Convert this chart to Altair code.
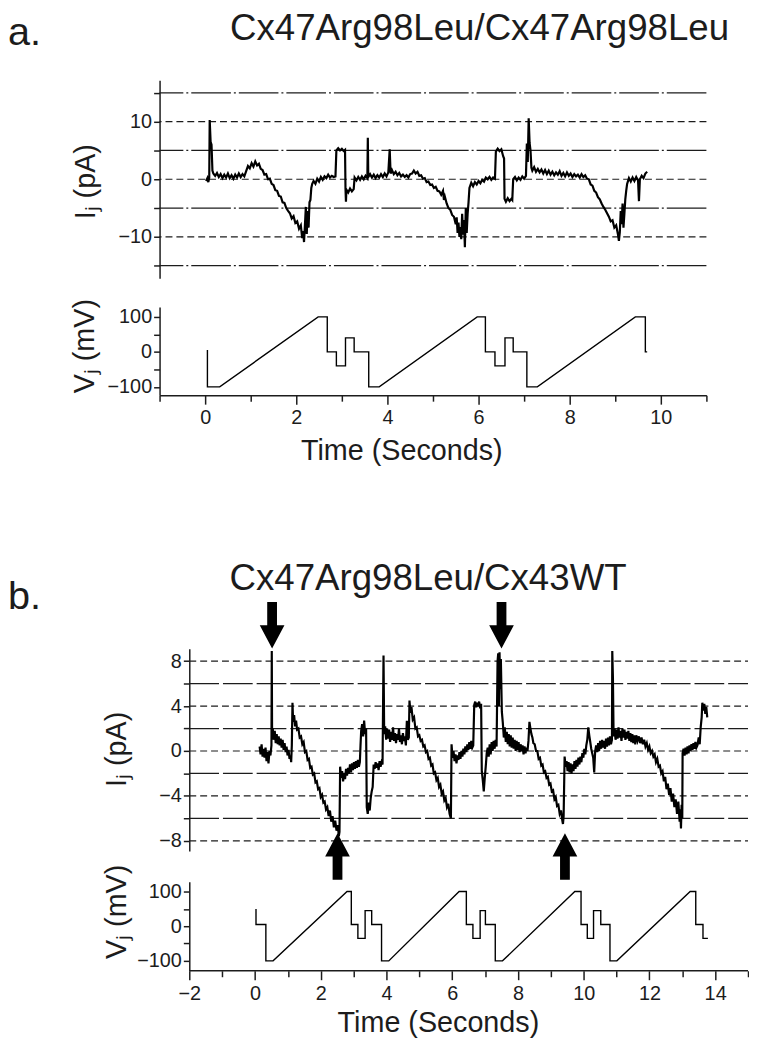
import altair as alt
import pandas as pd

FONT = "Liberation Sans"
INK = "#1c1c1c"

# ---------------- panel a ----------------
a_letter = "a."
a_title = "Cx47Arg98Leu/Cx47Arg98Leu"
a_time_ticks = list(range(-1, 12))
a_ij_ticks = [-15, -10, -5, 0, 5, 10, 15]
a_vj_ticks = [-100, -50, 0, 50, 100]
a_grid_dash = [10, 0, -10]
a_grid_long = [15, 5, -5, -15]

a_ij_points = [
    (0.02, -0.3), (0.05, 0.2), (0.07, -0.5), (0.09, 0.3), (0.10, 10.3), (0.12, 6.5), (0.14, 6.0),
    (0.16, 1.5), (0.18, 1.0), (0.22, 0.6), (0.26, 1.1), (0.30, 0.4), (0.34, 0.9), (0.38, 0.2),
    (0.42, 0.8), (0.46, 0.3), (0.50, 1.0), (0.54, 0.2), (0.58, 0.7), (0.62, 0.1), (0.66, 0.8),
    (0.70, 0.3), (0.74, 1.0), (0.78, 0.4), (0.82, 0.9), (0.86, 0.5), (0.90, 1.4), (0.94, 2.3),
    (0.98, 1.9), (1.02, 2.8), (1.06, 2.2), (1.10, 3.1), (1.14, 2.4), (1.18, 2.7), (1.22, 1.8),
    (1.26, 1.6), (1.30, 0.8), (1.34, 0.9), (1.38, 0.0), (1.42, 0.1), (1.46, -0.8), (1.50, -1.0),
    (1.54, -1.9), (1.58, -2.0), (1.62, -2.9), (1.66, -3.0), (1.70, -4.0), (1.74, -4.1), (1.78, -5.0),
    (1.82, -5.5), (1.86, -5.9), (1.90, -6.8), (1.94, -6.4), (1.98, -7.6), (2.02, -7.3), (2.06, -8.6),
    (2.10, -8.0), (2.13, -10.2), (2.15, -9.0), (2.17, -10.9), (2.19, -8.0), (2.21, -4.8), (2.23, -9.5),
    (2.25, -5.5), (2.27, -8.4), (2.29, -4.0), (2.31, -3.6), (2.33, -1.5), (2.35, -0.8), (2.38, -0.3),
    (2.42, -0.8), (2.46, 0.1), (2.50, -0.4), (2.54, 0.4), (2.58, -0.1), (2.62, 0.5), (2.66, 0.2),
    (2.70, 0.8), (2.74, 0.3), (2.78, 0.6), (2.82, 0.4), (2.86, 0.5), (2.88, 5.0), (2.92, 5.4),
    (2.96, 5.0), (3.00, 5.3), (3.04, 4.9), (3.07, 5.1), (3.08, -1.6), (3.09, -3.9), (3.10, -1.8),
    (3.14, -2.3), (3.18, -1.6), (3.22, -2.1), (3.26, -1.7), (3.28, 0.3), (3.32, -0.2), (3.36, 0.4),
    (3.40, -0.1), (3.44, 0.5), (3.48, 0.0), (3.52, 0.6), (3.56, 0.2), (3.57, 7.2), (3.58, 0.4),
    (3.62, 0.9), (3.66, 0.3), (3.70, 0.8), (3.74, 0.2), (3.78, 0.7), (3.82, 0.3), (3.86, 0.9),
    (3.90, 0.4), (3.94, 1.0), (3.98, 0.5), (4.02, 1.2), (4.05, 5.2), (4.07, 1.0), (4.10, 1.6),
    (4.14, 0.9), (4.18, 1.3), (4.22, 0.7), (4.26, 1.1), (4.30, 0.5), (4.34, 0.8), (4.38, 0.4),
    (4.42, 0.7), (4.46, 0.3), (4.50, 0.9), (4.54, 1.0), (4.58, 1.5), (4.62, 1.0), (4.66, 1.3),
    (4.70, 0.6), (4.74, 0.7), (4.78, 0.1), (4.82, 0.2), (4.86, -0.5), (4.90, -0.4), (4.94, -1.0),
    (4.98, -0.9), (5.02, -1.5), (5.06, -1.3), (5.10, -2.0), (5.14, -2.1), (5.18, -2.7), (5.22, -2.0),
    (5.24, -3.6), (5.26, -3.0), (5.30, -4.2), (5.34, -5.0), (5.38, -5.3), (5.42, -6.2), (5.46, -6.5),
    (5.50, -7.8), (5.52, -6.6), (5.54, -9.3), (5.56, -7.5), (5.58, -10.0), (5.60, -8.3), (5.62, -10.4),
    (5.64, -6.0), (5.66, -9.6), (5.68, -7.1), (5.70, -11.8), (5.72, -5.0), (5.74, -9.3), (5.76, -6.0),
    (5.78, -4.0), (5.80, -1.5), (5.84, -0.6), (5.88, -1.2), (5.92, -0.5), (5.96, -0.9), (6.00, -0.3),
    (6.04, -0.7), (6.08, -0.1), (6.12, -0.4), (6.16, 0.3), (6.20, 0.0), (6.24, 0.4), (6.28, -0.1),
    (6.32, 0.3), (6.36, 0.1), (6.38, 4.8), (6.42, 5.3), (6.46, 4.9), (6.50, 5.2), (6.54, 4.0),
    (6.56, 3.6), (6.57, -3.4), (6.60, -3.9), (6.64, -3.3), (6.68, -3.8), (6.72, -3.4), (6.74, -3.6),
    (6.76, 0.0), (6.80, 0.4), (6.84, -0.2), (6.88, 0.3), (6.92, -0.1), (6.96, 0.5), (7.00, 0.1),
    (7.04, 0.6), (7.06, 6.2), (7.08, 3.0), (7.10, 10.6), (7.12, 6.3), (7.14, 5.0), (7.16, 2.0),
    (7.18, 1.5), (7.22, 2.1), (7.26, 1.3), (7.30, 1.8), (7.34, 1.2), (7.38, 1.7), (7.42, 1.0),
    (7.46, 1.6), (7.50, 0.9), (7.54, 1.5), (7.58, 0.8), (7.62, 1.3), (7.66, 0.7), (7.70, 1.2),
    (7.74, 0.8), (7.78, 1.4), (7.82, 0.6), (7.86, 1.1), (7.90, 0.5), (7.94, 1.2), (7.98, 0.6),
    (8.02, 1.0), (8.06, 0.4), (8.10, 0.9), (8.14, 0.5), (8.18, 0.8), (8.22, 0.3), (8.26, 0.9),
    (8.30, 0.4), (8.34, 0.7), (8.38, 0.1), (8.42, 0.0), (8.46, -0.9), (8.50, -1.1), (8.54, -2.0),
    (8.58, -2.3), (8.62, -3.1), (8.66, -3.5), (8.70, -4.2), (8.74, -4.8), (8.78, -5.3), (8.82, -5.9),
    (8.86, -6.5), (8.90, -7.3), (8.94, -7.1), (8.98, -8.4), (9.02, -8.0), (9.06, -9.6), (9.08, -10.7),
    (9.10, -9.2), (9.12, -5.5), (9.14, -7.8), (9.16, -4.2), (9.18, -8.4), (9.20, -6.0), (9.22, -3.5),
    (9.24, -2.0), (9.26, -0.8), (9.30, 0.2), (9.34, -0.4), (9.38, 0.3), (9.42, -0.3), (9.46, 0.4),
    (9.50, -0.2), (9.52, -3.8), (9.54, 0.0), (9.58, 0.6), (9.62, 0.2), (9.66, 1.0), (9.70, 1.3),
]

a_vj_points = [
    (0.05, 5), (0.05, -100), (0.32, -100), (2.48, 100), (2.68, 100), (2.68, 0), (2.88, 0),
    (2.88, -40), (3.08, -40), (3.08, 40), (3.27, 40), (3.27, 0), (3.59, 0), (3.59, -100),
    (3.82, -100), (5.97, 100), (6.15, 100), (6.15, 0), (6.36, 0), (6.36, -40), (6.58, -40),
    (6.58, 40), (6.76, 40), (6.76, 0), (7.06, 0), (7.06, -100), (7.29, -100), (9.44, 100),
    (9.66, 100), (9.66, 0), (9.70, 0),
]

# ---------------- panel b ----------------
b_letter = "b."
b_title = "Cx47Arg98Leu/Cx43WT"
b_time_ticks = list(range(-2, 16))
b_time_range = [-2, 15]
b_ij_ticks = [-8, -6, -4, -2, 0, 2, 4, 6, 8]
b_vj_ticks = [-100, -50, 0, 50, 100]
b_grid_dash = [8, 4, 0, -4, -8]
b_grid_long = [6, 2, -2, -6]
b_arrow_down_t = [0.52, 7.5]
b_arrow_down_v = [11.2, 11.2]
b_arrow_up_t = [2.51, 9.43]
b_arrow_up_v = [-9.4, -9.4]

b_ij_points = [
    (0.14, 0.4), (0.17, -0.3), (0.20, 0.6), (0.23, -0.5), (0.26, 0.2), (0.29, -0.6), (0.32, 0.3),
    (0.35, -0.9), (0.38, -0.1), (0.41, -1.1), (0.44, 0.0), (0.47, -0.4), (0.50, 0.5), (0.51, 8.9),
    (0.52, 1.0), (0.54, 2.0), (0.57, 1.0), (0.60, 1.8), (0.63, 0.7), (0.66, 1.5), (0.69, 0.6),
    (0.72, 1.3), (0.75, 0.5), (0.78, 1.1), (0.81, 0.3), (0.84, 1.0), (0.87, 0.1), (0.90, 0.7),
    (0.93, -0.1), (0.96, 0.4), (0.99, -0.4), (1.02, 0.1), (1.05, -0.7), (1.08, -0.4), (1.10, -1.0),
    (1.12, 0.5), (1.14, 4.3), (1.16, 2.6), (1.19, 3.2), (1.22, 2.2), (1.25, 2.7), (1.28, 1.9),
    (1.32, 2.0), (1.36, 1.2), (1.40, 1.3), (1.44, 0.6), (1.48, 0.8), (1.52, -0.1), (1.56, 0.0),
    (1.60, -0.8), (1.64, -0.7), (1.68, -1.5), (1.72, -1.4), (1.76, -2.1), (1.80, -2.0), (1.84, -2.8),
    (1.88, -2.7), (1.92, -3.4), (1.96, -3.3), (2.00, -4.1), (2.04, -3.9), (2.08, -4.6), (2.12, -4.5),
    (2.16, -5.2), (2.20, -5.0), (2.24, -5.8), (2.28, -5.3), (2.32, -6.3), (2.36, -5.8), (2.40, -6.8),
    (2.44, -6.2), (2.48, -7.1), (2.52, -6.6), (2.55, -7.6), (2.57, -7.2), (2.59, -1.4), (2.62, -2.4),
    (2.65, -1.8), (2.68, -2.7), (2.71, -2.0), (2.74, -2.5), (2.77, -1.6), (2.80, -2.2), (2.83, -1.5),
    (2.86, -2.0), (2.89, -1.2), (2.92, -1.9), (2.95, -1.1), (2.98, -1.7), (3.01, -1.0), (3.04, -1.6),
    (3.07, -0.9), (3.10, -1.5), (3.13, -0.8), (3.16, -1.4), (3.19, -1.0), (3.21, 0.5), (3.23, 1.8),
    (3.26, 2.4), (3.29, 1.3), (3.32, 2.7), (3.35, 1.5), (3.38, 2.0), (3.40, -5.0), (3.43, -5.6),
    (3.46, -4.6), (3.49, -5.3), (3.52, -4.2), (3.55, -3.6), (3.58, -3.2), (3.61, -1.2), (3.64, -1.6),
    (3.67, -1.0), (3.70, -1.5), (3.73, -1.1), (3.76, -1.7), (3.79, -0.9), (3.82, -1.4), (3.85, -1.0),
    (3.88, -1.2), (3.91, 8.5), (3.93, 1.5), (3.96, 2.2), (3.99, 1.0), (4.02, 2.0), (4.05, 1.1),
    (4.08, 1.9), (4.11, 0.8), (4.14, 1.7), (4.17, 1.0), (4.20, 2.1), (4.23, 0.9), (4.26, 1.6),
    (4.29, 0.7), (4.32, 1.5), (4.35, 1.0), (4.38, 2.0), (4.41, 0.8), (4.44, 1.4), (4.47, 0.6),
    (4.50, 1.6), (4.53, 0.9), (4.56, 1.3), (4.59, 0.5), (4.62, 2.7), (4.65, 1.0), (4.68, 1.2),
    (4.70, 4.5), (4.73, 3.4), (4.76, 3.9), (4.80, 2.8), (4.84, 3.0), (4.88, 2.0), (4.92, 2.1),
    (4.96, 1.3), (5.00, 1.4), (5.04, 0.9), (5.08, 1.0), (5.12, 0.4), (5.16, 0.5), (5.20, -0.1),
    (5.24, 0.0), (5.28, -0.7), (5.32, -0.6), (5.36, -1.3), (5.40, -1.2), (5.44, -2.0), (5.48, -1.9),
    (5.52, -2.6), (5.56, -2.4), (5.60, -3.2), (5.64, -3.0), (5.68, -3.8), (5.72, -3.6), (5.76, -4.4),
    (5.80, -4.2), (5.84, -5.0), (5.88, -4.7), (5.92, -5.6), (5.96, -6.0), (5.98, 0.6), (6.01, -0.6),
    (6.04, 0.0), (6.07, -0.9), (6.10, -0.3), (6.13, -1.1), (6.16, -0.4), (6.19, -0.8), (6.22, -0.1),
    (6.25, -0.7), (6.28, 0.0), (6.31, -0.5), (6.34, 0.2), (6.37, -0.3), (6.40, 0.4), (6.43, -0.1),
    (6.46, 0.6), (6.49, 0.1), (6.52, 0.8), (6.55, 0.2), (6.58, 0.9), (6.61, 0.3), (6.64, 0.5),
    (6.67, 4.1), (6.70, 4.4), (6.73, 3.9), (6.76, 4.3), (6.79, 4.0), (6.82, 4.4), (6.85, 3.8),
    (6.88, 4.2), (6.90, -1.8), (6.93, -2.6), (6.96, -3.6), (6.99, -2.4), (7.02, -1.4), (7.05, -0.2),
    (7.08, 0.3), (7.11, -0.5), (7.14, 0.6), (7.17, -0.3), (7.20, 0.8), (7.23, 0.0), (7.26, 0.9),
    (7.29, 0.2), (7.32, 1.0), (7.35, 0.4), (7.38, 8.0), (7.40, 8.7), (7.42, 4.0), (7.44, 8.8),
    (7.46, 5.5), (7.48, 8.2), (7.51, 3.5), (7.54, 2.5), (7.57, 1.2), (7.60, 2.1), (7.63, 0.8),
    (7.66, 1.7), (7.69, 0.6), (7.72, 1.5), (7.75, 0.4), (7.78, 1.4), (7.81, 0.3), (7.84, 1.2),
    (7.87, 0.2), (7.90, 1.0), (7.93, 0.0), (7.96, 0.9), (7.99, 0.1), (8.02, 0.8), (8.05, -0.1),
    (8.08, 0.6), (8.11, 0.0), (8.14, 0.5), (8.17, -0.3), (8.20, 0.4), (8.23, -0.2), (8.26, 0.3),
    (8.29, 0.0), (8.32, 0.9), (8.35, 2.6), (8.38, 2.0), (8.41, 1.5), (8.44, 1.2), (8.47, 0.7),
    (8.51, 0.6), (8.55, 0.0), (8.59, 0.0), (8.63, -0.7), (8.67, -0.6), (8.71, -1.3), (8.75, -1.2),
    (8.79, -1.9), (8.83, -1.8), (8.87, -2.4), (8.91, -2.3), (8.95, -3.0), (8.99, -2.9), (9.03, -3.6),
    (9.07, -3.5), (9.11, -4.3), (9.15, -4.1), (9.19, -4.9), (9.23, -4.8), (9.27, -5.6), (9.31, -5.3),
    (9.35, -6.2), (9.37, -6.5), (9.39, -5.8), (9.42, -0.5), (9.45, -1.4), (9.48, -0.9), (9.51, -1.8),
    (9.54, -1.0), (9.57, -1.9), (9.60, -1.1), (9.63, -2.0), (9.66, -1.2), (9.69, -1.8), (9.72, -0.9),
    (9.75, -1.6), (9.78, -0.8), (9.81, -1.4), (9.84, -0.6), (9.87, -1.2), (9.90, -0.5), (9.93, -1.0),
    (9.96, -0.2), (9.99, -0.6), (10.02, 0.2), (10.05, -0.3), (10.08, 0.5), (10.11, 1.0), (10.14, 2.1),
    (10.17, 1.4), (10.20, 0.8), (10.23, 0.2), (10.26, -0.2), (10.29, -0.6), (10.32, -1.9), (10.35, 0.0),
    (10.38, 0.5), (10.41, -0.1), (10.44, 0.7), (10.47, 0.0), (10.50, 0.9), (10.53, 0.2), (10.56, 1.0),
    (10.59, 0.3), (10.62, 0.9), (10.65, 0.2), (10.68, 1.1), (10.71, 0.4), (10.74, 1.2), (10.77, 0.5),
    (10.80, 1.3), (10.83, 0.6), (10.86, 1.0), (10.87, 8.9), (10.89, 6.5), (10.91, 1.3), (10.94, 2.0),
    (10.97, 1.0), (11.00, 1.9), (11.03, 1.1), (11.06, 2.1), (11.09, 1.2), (11.12, 1.8), (11.15, 0.9),
    (11.18, 2.0), (11.21, 1.2), (11.24, 1.9), (11.27, 1.0), (11.30, 1.7), (11.33, 1.1), (11.36, 1.8),
    (11.39, 0.9), (11.42, 1.6), (11.45, 0.8), (11.48, 1.5), (11.51, 0.7), (11.54, 1.4), (11.57, 0.6),
    (11.60, 1.4), (11.64, 0.9), (11.68, 1.3), (11.72, 0.7), (11.76, 1.2), (11.80, 0.6), (11.84, 1.0),
    (11.88, 0.4), (11.92, 0.7), (11.96, 0.1), (12.00, 0.4), (12.04, -0.2), (12.08, 0.0), (12.12, -0.5),
    (12.16, -0.3), (12.20, -1.0), (12.24, -0.7), (12.28, -1.4), (12.32, -1.3), (12.36, -2.0), (12.40, -1.8),
    (12.44, -2.7), (12.48, -2.3), (12.52, -3.4), (12.56, -2.9), (12.60, -3.9), (12.64, -3.3), (12.68, -4.5),
    (12.72, -3.8), (12.76, -5.0), (12.80, -4.3), (12.84, -5.6), (12.88, -4.5), (12.92, -6.3), (12.94, -5.2),
    (12.96, -6.9), (12.98, -4.8), (13.00, -6.0), (13.01, -0.2), (13.04, 0.2), (13.07, -0.4), (13.10, 0.3),
    (13.13, -0.3), (13.16, 0.4), (13.19, -0.2), (13.22, 0.5), (13.25, 0.0), (13.28, 0.6), (13.31, 0.1),
    (13.34, 0.7), (13.37, 0.2), (13.40, 0.8), (13.43, 0.3), (13.46, 0.5), (13.50, 1.2), (13.53, 0.6),
    (13.56, 2.1), (13.59, 3.0), (13.61, 4.3), (13.64, 3.6), (13.67, 4.2), (13.70, 3.3), (13.73, 3.9),
    (13.76, 3.0),
]

b_vj_points = [
    (0.03, 50), (0.03, 5), (0.33, 5), (0.33, -100), (0.55, -100), (2.80, 100), (2.93, 100),
    (2.93, 5), (3.13, 5), (3.13, -35), (3.35, -35), (3.35, 45), (3.55, 45), (3.55, 5), (3.85, 5),
    (3.85, -100), (4.07, -100), (6.21, 100), (6.43, 100), (6.43, 5), (6.63, 5), (6.63, -35),
    (6.85, -35), (6.85, 45), (7.01, 45), (7.01, 5), (7.31, 5), (7.31, -100), (7.53, -100),
    (9.73, 100), (9.92, 100), (9.92, 5), (10.11, 5), (10.11, -35), (10.30, -35), (10.30, 45),
    (10.52, 45), (10.52, 5), (10.80, 5), (10.80, -100), (11.01, -100), (13.24, 100), (13.41, 100),
    (13.41, 5), (13.63, 5), (13.63, -35), (13.78, -35),
]

# ---------------- helpers ----------------
ARROW_DOWN = "M-0.21,-1L0.21,-1L0.21,0L0.53,0L0,1L-0.53,0L-0.21,0Z"
ARROW_UP = "M-0.21,1L0.21,1L0.21,0L0.53,0L0,-1L-0.53,0L-0.21,0Z"
TITLE_SIZE = 37
LETTER_SIZE = 40


def trace_df(points):
    return pd.DataFrame({"t": [p[0] for p in points], "v": [p[1] for p in points],
                         "i": list(range(len(points)))})


def even_labels(step):
    return f"datum.value % {step} == 0 ? datum.label : ''"


def y_axis(ticks, step, title, tx, ty, offset=0):
    return alt.Axis(values=ticks, labelExpr=even_labels(step), title=title,
                    titleX=tx, titleY=ty, titleAngle=270, titleAlign="center",
                    titleBaseline="middle", tickSize=6, offset=offset)


def x_axis(ticks, tx, ty, domain=True):
    return alt.Axis(values=ticks, labelExpr=even_labels(2), title="Time (Seconds)",
                    titleX=tx, titleY=ty, titleAlign="center", titleBaseline="middle",
                    tickSize={"condition": {"test": "datum.value % 2 == 0", "value": 9}, "value": 6},
                    labelPadding=4, domain=domain)


def text_layer(label, size, align, x, y):
    return alt.Chart(pd.DataFrame({"s": [label]})).mark_text(
        font=FONT, fontSize=size, align=align, baseline="top", color=INK
    ).encode(text="s:N", x=alt.value(x), y=alt.value(y))


def grid_layers(yscale, yaxis, grid_dash, grid_long, long_dash, xscale=None, xrange=None):
    y_enc = alt.Y("g:Q", scale=yscale, axis=yaxis)
    enc = {"y": y_enc}
    if xrange is not None:
        enc["x"] = alt.X(datum=xrange[0], type="quantitative", scale=xscale, axis=None)
        enc["x2"] = alt.X2(datum=xrange[1])
    g1 = alt.Chart(pd.DataFrame({"g": grid_dash})).mark_rule(
        color=INK, strokeWidth=1.2, strokeDash=[7, 4]).encode(**enc)
    g2 = alt.Chart(pd.DataFrame({"g": grid_long})).mark_rule(
        color=INK, strokeWidth=1.3, strokeDash=long_dash).encode(**enc)
    return g1, g2


def line_layer(points, xscale, yscale, xaxis, yaxis, width):
    return alt.Chart(trace_df(points)).mark_line(color="#000000", strokeWidth=width).encode(
        x=alt.X("t:Q", scale=xscale, axis=xaxis),
        y=alt.Y("v:Q", scale=yscale, axis=yaxis),
        order="i:Q",
    )


# ---------------- panel a charts ----------------
A_W = 552
xa = alt.Scale(domain=[-1, 11], nice=False, zero=False)
ya_ij = alt.Scale(domain=[-17.2, 17.2], nice=False, zero=False)
ya_vj = alt.Scale(domain=[-124, 128], nice=False, zero=False)

a_ij_axis = y_axis(a_ij_ticks, 10, "Iⱼ (pA)", -75, 102)
ag1, ag2 = grid_layers(ya_ij, a_ij_axis, a_grid_dash, a_grid_long, [40, 3, 2, 3])
a_ij = alt.layer(
    ag1, ag2,
    line_layer(a_ij_points, xa, ya_ij, None, a_ij_axis, 2.2),
    text_layer(a_letter, LETTER_SIZE, "left", -153, -68),
    text_layer(a_title, TITLE_SIZE, "center", 323, -70),
).properties(width=A_W, height=200)

a_vj = line_layer(a_vj_points, xa, ya_vj, x_axis(a_time_ticks, 244, 55.5),
                  y_axis(a_vj_ticks, 100, "Vⱼ (mV)", -76, 39), 1.4
                  ).properties(width=A_W, height=89)

panel_a = alt.vconcat(a_ij, a_vj, spacing=29, bounds="flush")

# ---------------- panel b charts ----------------
# plot area starts 30 px left of the t = -2 axis so that it lines up with panel a
B_W = 594
xb = alt.Scale(domain=[-2.904, 15], nice=False, zero=False)
yb_ij = alt.Scale(domain=[-8.9, 9.1], nice=False, zero=False)
yb_vj = alt.Scale(domain=[-128.6, 128.6], nice=False, zero=False)

b_ij_axis = y_axis(b_ij_ticks, 4, "Iⱼ (pA)", -73, 101, offset=-30)
bg1, bg2 = grid_layers(yb_ij, b_ij_axis, b_grid_dash, b_grid_long, [30, 4],
                       xscale=xb, xrange=b_time_range)

arrows_down = alt.Chart(pd.DataFrame({"t": b_arrow_down_t, "v": b_arrow_down_v})).mark_point(
    shape=ARROW_DOWN, filled=True, color="#000000", opacity=1, size=2209, strokeWidth=0
).encode(x=alt.X("t:Q", scale=xb, axis=None), y=alt.Y("v:Q", scale=yb_ij, axis=b_ij_axis))
arrows_up = alt.Chart(pd.DataFrame({"t": b_arrow_up_t, "v": b_arrow_up_v})).mark_point(
    shape=ARROW_UP, filled=True, color="#000000", opacity=1, size=2209, strokeWidth=0
).encode(x=alt.X("t:Q", scale=xb, axis=None), y=alt.Y("v:Q", scale=yb_ij, axis=b_ij_axis))

b_ij = alt.layer(
    bg1, bg2,
    line_layer(b_ij_points, xb, yb_ij, None, b_ij_axis, 2.2),
    arrows_down, arrows_up,
    text_layer(b_letter, LETTER_SIZE, "left", -153, -72),
    text_layer(b_title, TITLE_SIZE, "center", 271, -88),
).properties(width=B_W, height=204)

b_vj_xaxis = x_axis(b_time_ticks, 281, 52, domain=False)
b_vj_yaxis = y_axis(b_vj_ticks, 100, "Vⱼ (mV)", -73, 30, offset=-30)
b_vj_base = alt.Chart(pd.DataFrame({"t0": [b_time_range[0]], "t1": [b_time_range[1]]})).mark_rule(
    color=INK, strokeWidth=1.5
).encode(
    x=alt.X("t0:Q", scale=xb, axis=b_vj_xaxis), x2="t1:Q",
    y=alt.Y(datum=-128.6, type="quantitative", scale=yb_vj, axis=b_vj_yaxis),
)
b_vj = alt.layer(
    line_layer(b_vj_points, xb, yb_vj, b_vj_xaxis, b_vj_yaxis, 1.4),
    b_vj_base,
).properties(width=B_W, height=90)

panel_b = alt.vconcat(b_ij, b_vj, spacing=31, bounds="flush")

chart = alt.concat(panel_a, panel_b, columns=1, spacing=96).properties(
    padding={"top": -3, "left": 0, "right": 0, "bottom": 0}
).configure_view(stroke=None).configure_axis(
    labelFont=FONT, labelFontSize=20, labelColor=INK,
    titleFont=FONT, titleFontSize=29, titleFontWeight="normal", titleColor=INK,
    domainColor=INK, domainWidth=1.5, tickColor=INK, tickWidth=1.5, grid=False,
)

chart.save("out.html", embed_options={"renderer": "svg", "actions": False})
